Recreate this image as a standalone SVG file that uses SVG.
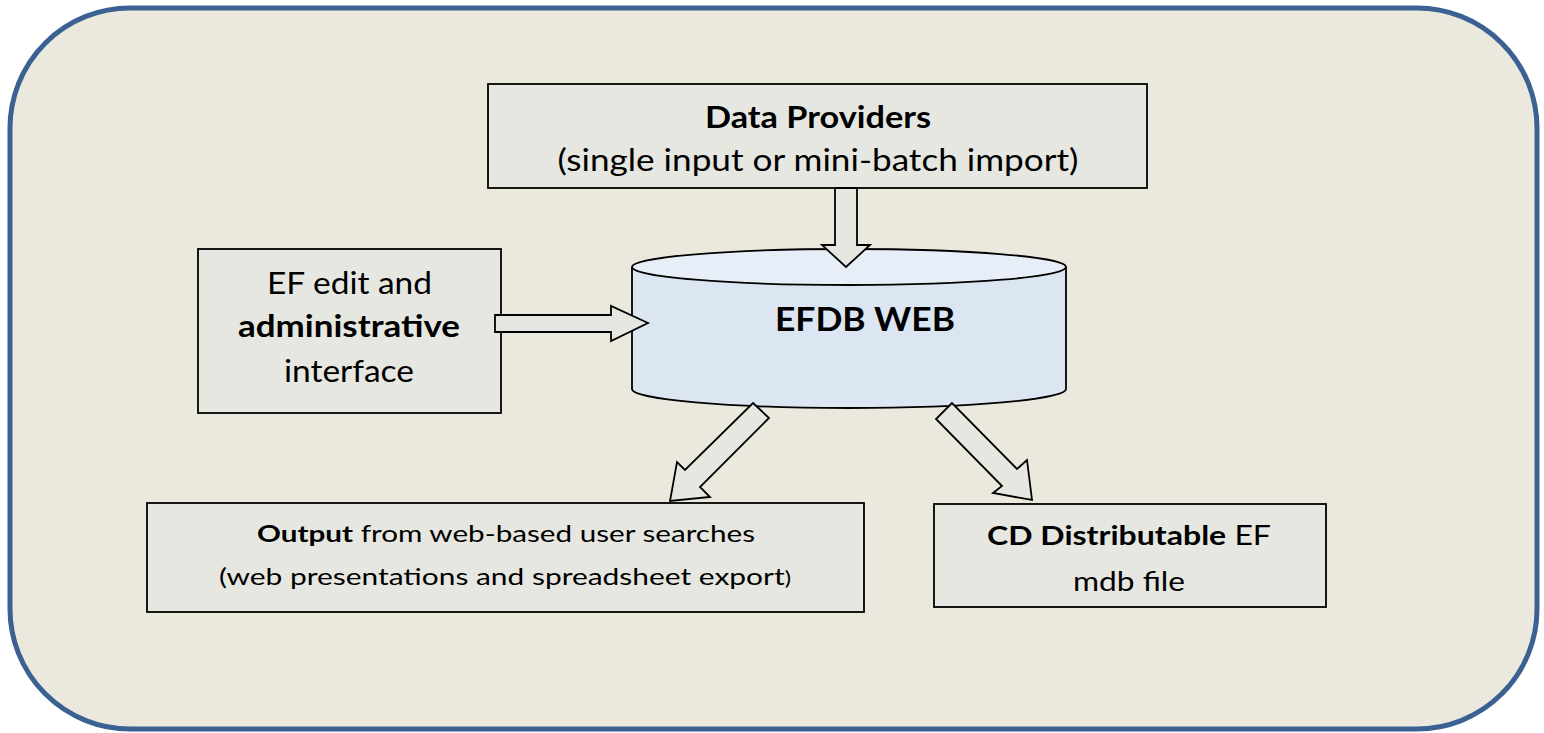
<svg xmlns="http://www.w3.org/2000/svg" width="1544" height="733" viewBox="0 0 1544 733">
<style>
.box{fill:#E6E7E1;stroke:#000;stroke-width:1.8}
.arr{fill:#E6E7E1;stroke:#000;stroke-width:1.8;stroke-linejoin:miter}
.t{font-family:Lato,"Open Sans","Liberation Sans",sans-serif;fill:#000;text-anchor:middle}
.b{font-weight:bold}
</style>
<rect width="1544" height="733" fill="#FFFFFF"/>
<g id="frame">
<rect x="10" y="8" width="1527" height="721" rx="120" ry="120" fill="#EBE9DD" stroke="#3A6192" stroke-width="5"/>
</g>
<g id="data-providers">
<rect class="box" x="488" y="84" width="659" height="104"/>
<text class="t b" x="818" y="128" font-size="30" textLength="226" lengthAdjust="spacingAndGlyphs">Data Providers</text>
<text class="t" x="818" y="171" font-size="31" textLength="521" lengthAdjust="spacingAndGlyphs">(single input or mini-batch import)</text>
</g>
<g id="efdb-web">
<path d="M632,267 L632,389 A217,19 0 0 0 1066,389 L1066,267" fill="#DCE6F2" stroke="#000" stroke-width="1.8"/>
<ellipse cx="849" cy="267" rx="217" ry="18" fill="#E8EEF7" stroke="#000" stroke-width="1.8"/>
<text class="t b" x="865" y="331" font-size="33" textLength="180" lengthAdjust="spacingAndGlyphs">EFDB WEB</text>
</g>
<g id="ef-edit">
<rect class="box" x="198" y="249" width="303" height="164"/>
<text class="t" x="349.5" y="294" font-size="30" textLength="165" lengthAdjust="spacingAndGlyphs">EF edit and</text>
<text class="t b" x="349" y="337" font-size="30" textLength="222" lengthAdjust="spacingAndGlyphs">administrative</text>
<text class="t" x="349" y="382" font-size="30" textLength="130" lengthAdjust="spacingAndGlyphs">interface</text>
</g>
<g id="output">
<rect class="box" x="147" y="503" width="717" height="109"/>
<text class="t" x="506" y="542" font-size="23" textLength="498" lengthAdjust="spacingAndGlyphs"><tspan class="b">Output</tspan> from web-based user searches</text>
<text class="t" x="505" y="585" font-size="24" textLength="572" lengthAdjust="spacingAndGlyphs">(web presentations and spreadsheet export<tspan font-size="19">)</tspan></text>
</g>
<g id="cd">
<rect class="box" x="934" y="504" width="392" height="103"/>
<text class="t" x="1129" y="545" font-size="27" textLength="284" lengthAdjust="spacingAndGlyphs"><tspan class="b">CD Distributable</tspan> EF</text>
<text class="t" x="1129" y="591" font-size="27" textLength="112" lengthAdjust="spacingAndGlyphs">mdb file</text>
</g>
<g id="connectors">
<polygon class="arr" points="835,188 857,188 857,245 870,245 846,267 822,245 835,245"/>
<polygon class="arr" points="495,315 611,315 611,306 648,323 611,341 611,332 495,332"/>
<polygon class="arr" points="753,403 769,418 700,487 710,497 670,501 677,462 685,470"/>
<polygon class="arr" points="952,403 936,419 1002,486 993,493 1032,500 1027,460 1017,469"/>
</g>
</svg>
